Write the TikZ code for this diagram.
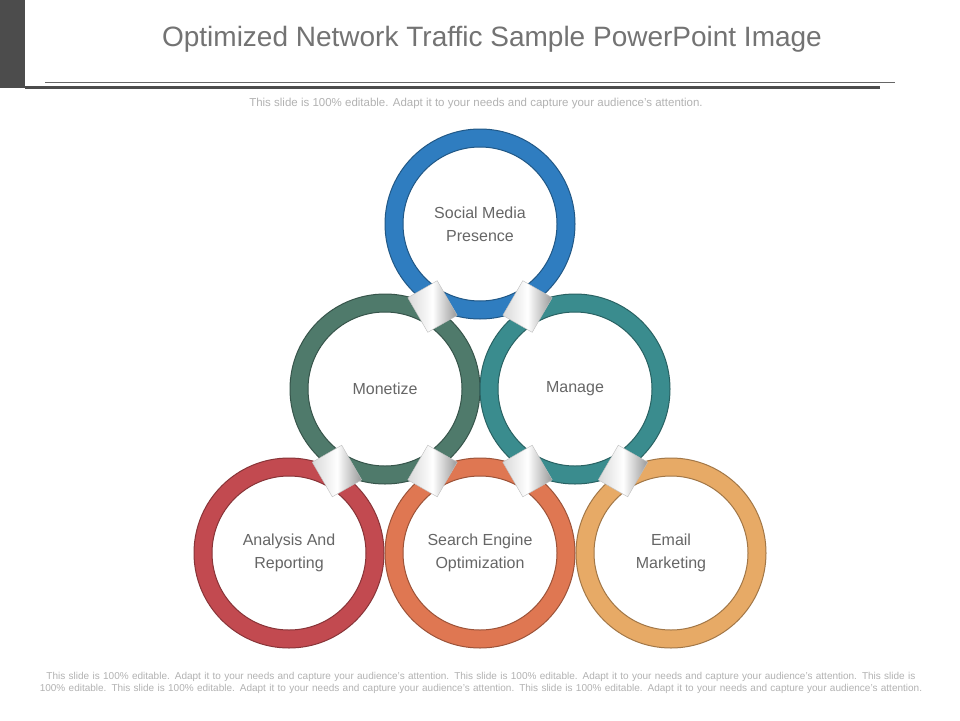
\documentclass[tikz,border=0pt]{standalone}
\usepackage{fontspec}
\setmainfont{Liberation Sans}
\usetikzlibrary{calc}
\begin{document}
\begin{tikzpicture}[x=1pt,y=-1pt,
  ringtxt/.style={circle,minimum size=154pt,align=center,font=\fontsize{16}{23}\selectfont,text=black!60},
  link/.style={rectangle,minimum width=34pt,minimum height=40pt,draw=black!25,left color=black!15,right color=black!40,middle color=white}]
\useasboundingbox (0,0) rectangle (960,720);
\fill[white] (0,0) rectangle (960,720);
\fill[black!70] (0,0) rectangle (25,88);
\node (title) at (492,39) {\fontsize{28}{32}\selectfont\color{black!55}Optimized Network Traffic Sample PowerPoint Image};
\coordinate (l1a) at (45,82); \coordinate (l1b) at (895,82);
\coordinate (l2a) at (25,87.5); \coordinate (l2b) at (880,87.5);
\draw[black!60,line width=0.8pt] (l1a) -- (l1b);
\draw[black!70,line width=2.5pt] (l2a) -- (l2b);
\node (sub) at (476,104) {\fontsize{11.5}{13}\selectfont\color{black!30}This slide is 100\% editable. Adapt it to your needs and capture your audience's attention.};
\def\ring#1#2#3#4{%
  \fill[#3,even odd rule,draw=#3!70!black,line width=1pt] (#1,#2) circle (95) (#1,#2) circle (77);
  \node[ringtxt] (#4) at (#1,#2) {};}
\definecolor{cb}{HTML}{2F7DC0}
\definecolor{cg}{HTML}{4F7A6B}
\definecolor{ct}{HTML}{3A8C8E}
\definecolor{cr}{HTML}{C24A50}
\definecolor{co}{HTML}{DF7752}
\definecolor{cy}{HTML}{E7AA66}
\ring{289}{553}{cr}{ar}
\ring{480}{553}{co}{seo}
\ring{671}{553}{cy}{em}
\ring{385}{389}{cg}{mo}
\ring{575}{389}{ct}{ma}
\ring{480}{224}{cb}{smp}
\node[ringtxt] at (smp) {Social Media\\Presence};
\node[ringtxt] at (mo) {Monetize};
\node[ringtxt] at (ma) {Manage};
\node[ringtxt] at (ar) {Analysis And\\Reporting};
\node[ringtxt] at (seo) {Search Engine\\Optimization};
\node[ringtxt] at (em) {Email\\Marketing};
\node[link,rotate=30] (k1) at ($(smp)!0.5!(mo)$) {};
\node[link,rotate=-30] (k2) at ($(smp)!0.5!(ma)$) {};
\node[link,rotate=30] (k3) at ($(mo)!0.5!(ar)$) {};
\node[link,rotate=-30] (k4) at ($(mo)!0.5!(seo)$) {};
\node[link,rotate=30] (k5) at ($(ma)!0.5!(seo)$) {};
\node[link,rotate=-30] (k6) at ($(ma)!0.5!(em)$) {};
\node[align=center,text=black!30,font=\fontsize{10}{11.5}\selectfont,text width=915pt] (foot) at (481,683) {This slide is 100\% editable. Adapt it to your needs and capture your audience's attention. This slide is 100\% editable. Adapt it to your needs and capture your audience's attention. This slide is 100\% editable. This slide is 100\% editable. Adapt it to your needs and capture your audience's attention. This slide is 100\% editable. Adapt it to your needs and capture your audience's attention.};
\end{tikzpicture}
\end{document}
